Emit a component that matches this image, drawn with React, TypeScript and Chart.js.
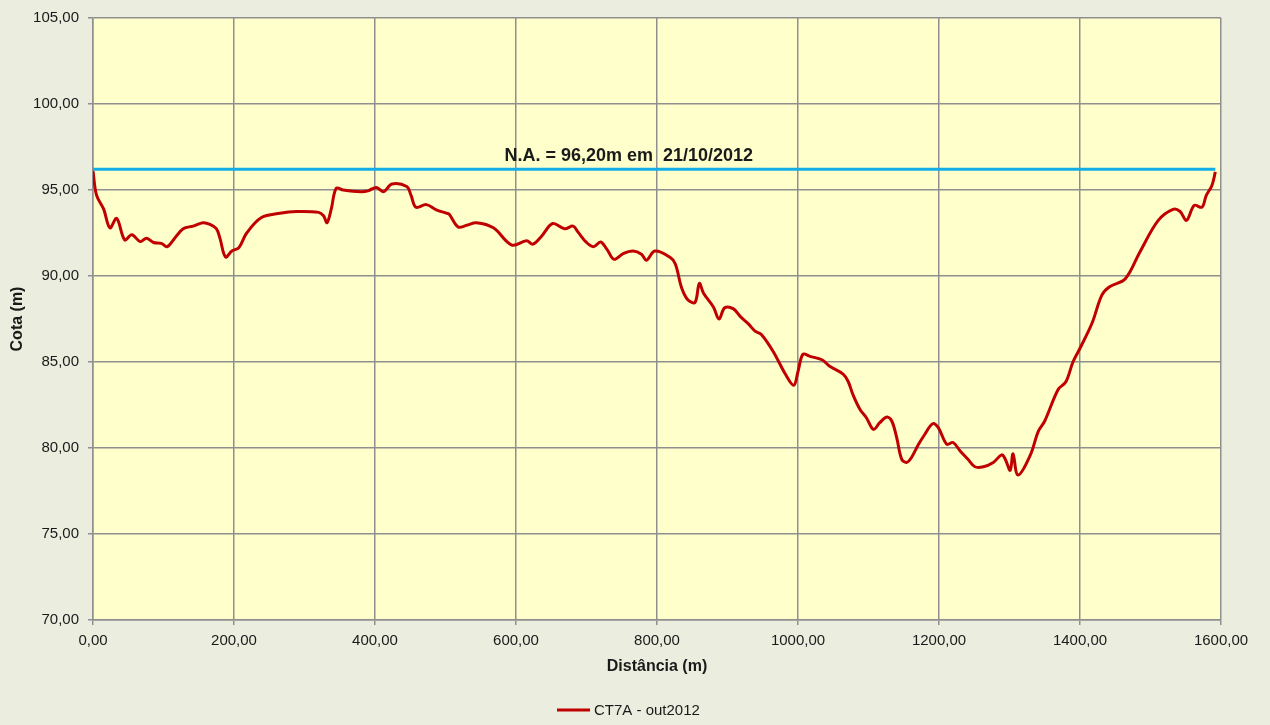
import React, { useEffect, useRef } from 'react';
import { Chart, registerables } from 'chart.js';

Chart.register(...registerables);

// ---- Data ----
const distances: number[] = [
  0, 5, 15, 24, 33.6, 45, 55, 67, 76, 86, 97, 105, 114, 128, 142, 156, 166, 175, 180, 188,
  197, 207, 218, 239, 265, 289, 320, 327, 332, 338, 345, 355, 380, 390, 402, 412, 424, 445, 451, 458,
  473, 487, 500, 505, 518, 530, 544, 568, 594, 615, 624, 636, 652, 669, 681, 688, 700, 710, 720, 729,
  739, 752, 766, 778, 785, 797, 818, 826, 835, 844, 854, 860, 866, 880, 888, 896, 908, 918, 930, 939,
  948, 965, 982, 994, 1000, 1007, 1017, 1034, 1045, 1064, 1071, 1078, 1088, 1097, 1107, 1116, 1126, 1133, 1140, 1147,
  1154, 1161, 1171, 1180, 1191, 1199, 1211, 1220, 1230, 1241, 1251, 1263, 1277, 1289, 1294, 1301, 1305, 1312, 1329, 1341,
  1350, 1369, 1380, 1390, 1400, 1417, 1431, 1442, 1464, 1485, 1511, 1532, 1542, 1551, 1562, 1573, 1579, 1587, 1592,
];
const elevations: number[] = [
  96.1, 94.7, 93.9, 92.8, 93.35, 92.1, 92.4, 92.0, 92.2, 91.95, 91.9, 91.7, 92.1, 92.75, 92.9, 93.1, 93.0, 92.75, 92.2, 91.1,
  91.45, 91.65, 92.5, 93.4, 93.65, 93.75, 93.7, 93.5, 93.1, 93.9, 95.1, 95.0, 94.9, 94.95, 95.15, 94.9, 95.35, 95.2, 94.7, 94.0,
  94.15, 93.85, 93.67, 93.6, 92.85, 92.95, 93.1, 92.8, 91.8, 92.05, 91.85, 92.3, 93.05, 92.75, 92.9, 92.55, 91.95, 91.7, 91.98, 91.55,
  90.97, 91.3, 91.45, 91.27, 90.92, 91.45, 91.1, 90.7, 89.3, 88.6, 88.47, 89.57, 89.0, 88.2, 87.5, 88.15, 88.1, 87.65, 87.2, 86.8,
  86.6, 85.6, 84.3, 83.65, 84.45, 85.45, 85.33, 85.13, 84.75, 84.3, 83.88, 83.1, 82.24, 81.76, 81.08, 81.47, 81.8, 81.57, 80.6, 79.35,
  79.16, 79.45, 80.22, 80.8, 81.41, 81.18, 80.22, 80.32, 79.83, 79.35, 78.91, 78.91, 79.16, 79.6, 79.35, 78.7, 79.66, 78.43, 79.54, 80.98,
  81.57, 83.4, 83.85, 85.0, 85.8, 87.25, 88.89, 89.38, 89.82, 91.4, 93.23, 93.87, 93.75, 93.23, 94.1, 94.0, 94.68, 95.25, 96.05,
];
const waterLevel = 96.2;
const waterLevelDistances: number[] = [0, 1592];
const xTickValues: number[] = [0, 200, 400, 600, 800, 1000, 1200, 1400, 1600];
const yTickValues: number[] = [70, 75, 80, 85, 90, 95, 100, 105];
const seriesLabel = 'CT7A - out2012';
const annotationText = 'N.A. = 96,20m em  21/10/2012';
const xTitle = 'Distância (m)';
const yTitle = 'Cota (m)';

const fmt = (v: number) => v.toFixed(2).replace('.', ',');

const TEXT = '#1a1a1a';
const GRID = '#8f8f8f';
const RED = '#C00000';
const BLUE = '#12ADE6';
const FONT = "'Liberation Sans', Arial, sans-serif";

export default function App() {
  const ref = useRef<HTMLCanvasElement | null>(null);

  useEffect(() => {
    if (!ref.current) return;
    const bgPlugin = {
      id: 'bgPlugin',
      beforeDraw(chart: any) {
        const { ctx, chartArea } = chart;
        ctx.save();
        ctx.fillStyle = '#EBEEDF';
        ctx.fillRect(0, 0, chart.width, chart.height);
        ctx.fillStyle = '#FFFFCC';
        ctx.fillRect(chartArea.left, chartArea.top, chartArea.right - chartArea.left, chartArea.bottom - chartArea.top);
        ctx.restore();
      },
      afterDraw(chart: any) {
        const { ctx } = chart;
        const xs = chart.scales.x;
        const ys = chart.scales.y;
        ctx.save();
        // annotation
        ctx.fillStyle = TEXT;
        ctx.font = `bold 18px ${FONT}`;
        ctx.textAlign = 'center';
        ctx.textBaseline = 'alphabetic';
        const ax = xs.getPixelForValue(760);
        const ay = ys.getPixelForValue(waterLevel) - 8;
        ctx.fillText(annotationText, ax, ay);
        // legend
        const ly = 710;
        ctx.strokeStyle = RED;
        ctx.lineWidth = 3;
        ctx.beginPath();
        ctx.moveTo(557, ly);
        ctx.lineTo(590, ly);
        ctx.stroke();
        ctx.font = `15px ${FONT}`;
        ctx.textAlign = 'left';
        ctx.textBaseline = 'middle';
        ctx.fillText(seriesLabel, 594, ly + 1);
        ctx.restore();
      },
    };

    const chart = new Chart(ref.current, {
      type: 'line',
      data: {
        datasets: [
          {
            label: 'N.A.',
            data: waterLevelDistances.map((d) => ({ x: d, y: waterLevel })),
            borderColor: BLUE,
            borderWidth: 3,
            pointRadius: 0,
            tension: 0,
          },
          {
            label: seriesLabel,
            data: distances.map((d, i) => ({ x: d, y: elevations[i] })),
            borderColor: RED,
            backgroundColor: RED,
            borderWidth: 3,
            pointRadius: 0,
            tension: 0.35,
          },
        ],
      },
      options: {
        animation: false,
        responsive: false,
        devicePixelRatio: 1,
        layout: { padding: { left: 0, top: 13, right: 49, bottom: 45 } },
        plugins: {
          legend: { display: false },
          tooltip: { enabled: false },
        },
        scales: {
          x: {
            type: 'linear',
            min: 0,
            max: 1600,
            afterBuildTicks: (s: any) => {
              s.ticks = xTickValues.map((v) => ({ value: v }));
            },
            afterFit: (s: any) => {
              s.height = 60;
            },
            ticks: {
              callback: (v: any) => fmt(Number(v)),
              font: { family: FONT, size: 15 },
              color: TEXT,
              padding: 7,
              maxRotation: 0,
            },
            grid: { color: GRID, lineWidth: 1.5, tickLength: 5, drawTicks: true },
            border: { display: true, color: GRID, width: 1.5 },
            title: {
              display: true,
              text: xTitle,
              color: TEXT,
              font: { family: FONT, size: 16, weight: 'bold' },
              padding: { top: 0, bottom: 4 },
            },
          },
          y: {
            type: 'linear',
            min: 70,
            max: 105,
            afterBuildTicks: (s: any) => {
              s.ticks = yTickValues.map((v) => ({ value: v }));
            },
            afterFit: (s: any) => {
              s.width = 93;
            },
            ticks: {
              callback: (v: any) => fmt(Number(v)),
              font: { family: FONT, size: 15 },
              color: TEXT,
              padding: 9,
            },
            grid: { color: GRID, lineWidth: 1.5, tickLength: 5, drawTicks: true },
            border: { display: true, color: GRID, width: 1.5 },
            title: {
              display: true,
              text: yTitle,
              color: TEXT,
              font: { family: FONT, size: 16, weight: 'bold' },
              padding: { top: 8, bottom: 0 },
            },
          },
        },
      } as any,
      plugins: [bgPlugin],
    });
    return () => chart.destroy();
  }, []);

  return (
    <div style={{ position: 'absolute', left: 0, top: 0, width: 1270, height: 725, background: '#EBEEDF' }}>
      <canvas ref={ref} width={1270} height={725} style={{ display: 'block' }} />
    </div>
  );
}
